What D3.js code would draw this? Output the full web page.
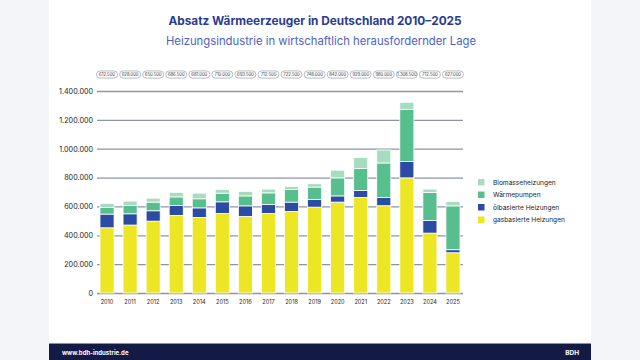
<!DOCTYPE html>
<html><head><meta charset="utf-8">
<script src="https://cdn.jsdelivr.net/npm/d3@7"></script>
<style>
html,body{margin:0;padding:0;background:#f4f5f8;}
svg{display:block;font-family:Inter,"Noto Sans",sans-serif;}
</style></head>
<body><svg id="c" width="640" height="360"></svg>
<script>
const years = ["2010","2011","2012","2013","2014","2015","2016","2017","2018","2019","2020","2021","2022","2023","2024","2025"];
const gas     = [452000,471000,498000,538000,524000,551000,531000,551000,565000,595000,630000,662000,605000,798000,415000,279000];
const oil     = [95000,78000,72000,69000,66000,81000,73000,63000,65000,53000,43000,49000,57000,114000,88000,21000];
const heatPump= [46000,58000,60000,59000,63000,60000,69000,80000,88000,86000,125000,152000,239000,360000,194000,304000];
const biomass = [28000,30000,27000,31000,39000,26000,31000,26000,20000,23000,53000,76000,90000,50000,23000,31000];
const totalLabels = ["612.500","628.000","650.500","686.500","681.000","710.000","693.500","712.500","722.500","748.000","842.000","929.000","980.000","1.308.500","712.500","627.000"];
const seriesKeys = ["gas","oil","heatPump","biomass"];
const seriesNames = ["gasbasierte Heizungen","ölbasierte Heizungen","Wärmepumpen","Biomasseheizungen"];
const seriesColors = ["#ece625","#2c4ba3","#57bf8e","#a7dcc1"];
const yTicks = [0,200000,400000,600000,800000,1000000,1200000,1400000];

const svg = d3.select("#c");
svg.append("rect").attr("x",49).attr("y",0).attr("width",542).attr("height",360).attr("fill","#ffffff");
svg.append("rect").attr("x",49).attr("y",343).attr("width",542).attr("height",1).attr("fill","#8a8fa3");
svg.append("rect").attr("x",49).attr("y",344).attr("width",542).attr("height",16).attr("fill","#131a45");
svg.append("text").attr("x",62).attr("y",354.5).attr("fill","#fff").attr("font-size",6).attr("font-weight",700).text("www.bdh-industrie.de");
svg.append("text").attr("x",579).attr("y",354.5).attr("fill","#fff").attr("font-size",6.5).attr("font-weight",700).attr("text-anchor","end").text("BDH");

svg.append("text").attr("x",315).attr("y",24.5).attr("text-anchor","middle").attr("fill","#2a3b96")
  .attr("font-size",11.8).attr("font-weight",700).text("Absatz Wärmeerzeuger in Deutschland 2010–2025");
svg.append("text").attr("x",321).attr("y",45).attr("text-anchor","middle").attr("fill","#4d62c4")
  .attr("font-size",11.3).text("Heizungsindustrie in wirtschaftlich herausfordernder Lage");

const x = d3.scaleBand().domain(years).range([95.5,464.5]).paddingInner(0.39).paddingOuter(0.195);
const y = d3.scaleLinear().domain([0,1400000]).range([293,91]);

const fmt = d => d===0 ? "0" : d3.format(",")(d).replace(/,/g,".");
const gy = svg.append("g").attr("transform","translate(97,0)")
  .call(d3.axisLeft(y).tickValues(yTicks).tickSize(-366).tickPadding(4).tickFormat(fmt));
gy.select(".domain").remove();
gy.selectAll(".tick line").attr("stroke","#8e93a8").attr("stroke-width",1.3);
gy.selectAll(".tick text").attr("fill","#222").attr("font-size",7.2).attr("font-family","Inter,'Noto Sans',sans-serif");

const table = years.map((yr,i)=>({year:yr,gas:gas[i],oil:oil[i],heatPump:heatPump[i],biomass:biomass[i]}));
const stack = d3.stack().keys(seriesKeys)(table);
svg.append("g").selectAll("g").data(stack).join("g").attr("fill",(d,i)=>seriesColors[i])
  .selectAll("rect").data(d=>d).join("rect")
  .attr("x",d=>x(d.data.year)).attr("width",x.bandwidth())
  .attr("y",d=>y(d[1])).attr("height",d=>y(d[0])-y(d[1]))
  .attr("stroke","#ffffff").attr("stroke-width",0.8);

const gx = svg.append("g").attr("transform","translate(0,293)")
  .call(d3.axisBottom(x).tickSize(0).tickPadding(7));
gx.select(".domain").remove();
gx.selectAll(".tick text").attr("fill","#222").attr("font-size",5.6).attr("font-family","Inter,'Noto Sans',sans-serif");

const pills = svg.append("g").selectAll("g").data(years).join("g")
  .attr("transform",d=>`translate(${x(d)+x.bandwidth()/2},74.5)`);
pills.append("rect").attr("x",-10.5).attr("y",-3.6).attr("width",21).attr("height",7.2).attr("rx",3.6)
  .attr("fill","#fff").attr("stroke","#9a9eb0").attr("stroke-width",0.7);
pills.append("text").attr("text-anchor","middle").attr("y",1.6).attr("font-size",4.2).attr("fill","#333")
  .text((d,i)=>totalLabels[i]);

const legOrder = [3,2,1,0];
const leg = svg.append("g").selectAll("g").data(legOrder).join("g")
  .attr("transform",(d,i)=>`translate(478,${179+i*12.5})`);
leg.append("rect").attr("width",6.5).attr("height",6.5).attr("fill",d=>seriesColors[d]);
leg.append("text").attr("x",15).attr("y",5.5).attr("font-size",6.6).attr("fill","#222").text(d=>seriesNames[d]);
</script></body></html>
